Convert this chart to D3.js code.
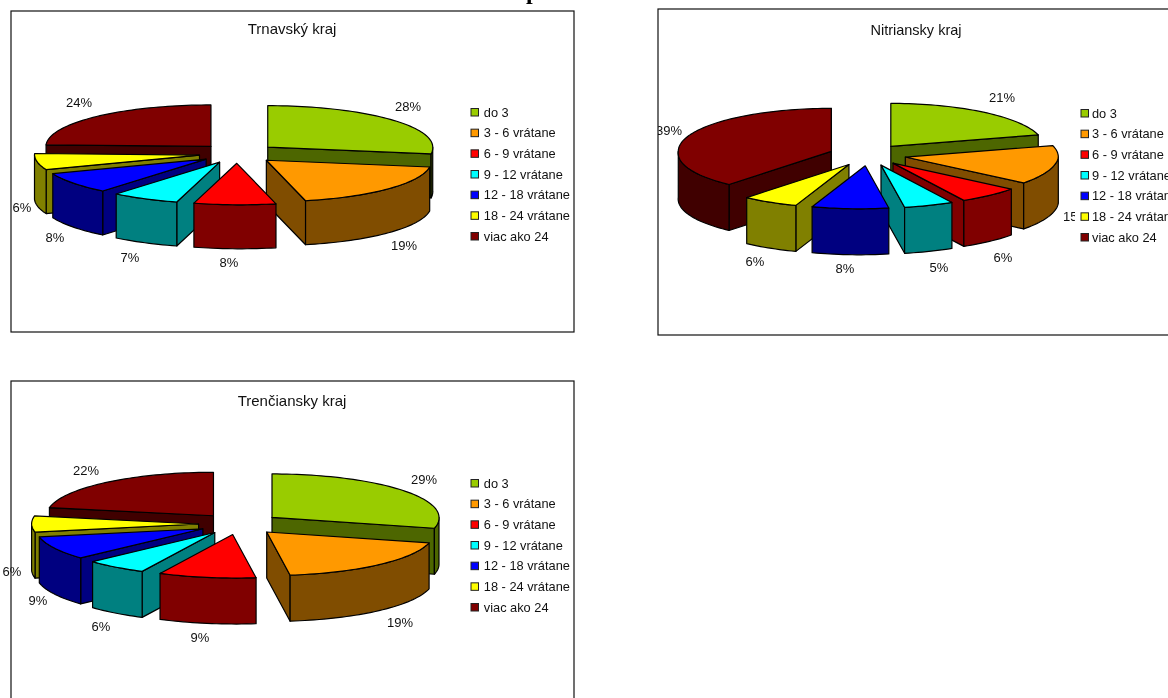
<!DOCTYPE html>
<html><head><meta charset="utf-8">
<script src="https://cdnjs.cloudflare.com/ajax/libs/d3/7.8.5/d3.min.js"></script>
<style>
html,body{margin:0;padding:0;background:#fff;overflow:hidden}
svg{display:block;filter:blur(0.3px)}
text{font-family:"Liberation Sans",Arial,sans-serif;fill:#111}
</style></head><body><svg id="c" width="1168" height="698"></svg>
<script>
const categories = ["do 3","3 - 6 vrátane","6 - 9 vrátane","9 - 12 vrátane","12 - 18 vrátane","18 - 24 vrátane","viac ako 24"];
const trnavaValues = [27.6,18.9,8,6.6,8.2,6.3,24.4];
const nitraValues = [20.7,14.6,6.4,5.2,8.1,6,39];
const trencinValues = [29,19,9.4,5.9,8.7,6,22];
const topColors = ["#99CC00","#FF9900","#FF0000","#00FFFF","#0000FF","#FFFF00","#800000"];
const sideColors = ["#4D6600","#804D00","#800000","#008080","#000080","#808000","#400000"];

const panels = [
 {title:"Trnavský kraj", values:trnavaValues, frame:[11,11,563,321], titleX:292,titleY:34,titleSize:15,
  cx:238,cy:153.5,rx:165,ry:41.5,depth:44,explode:39,shear:0.02,
  legX:471,legTop:112,legBottom:236,legText:12.8,
  labels:[[408,111],[404,250],[229,267],[130,262],[55,242],[22,212],[79,107]]},
 {title:"Nitriansky kraj", values:nitraValues, frame:[658,9,560,326], titleX:916,titleY:35,titleSize:14.5,
  cx:867.5,cy:155,rx:153,ry:43,depth:46,explode:38.5,shear:-0.04,
  legX:1081,legTop:113,legBottom:237,legText:11,legBg:[1075,100,100,150],clipLeft:true,
  labels:[[1002,102],[1076,221],[1003,262],[939,272],[845,273],[755,266],[669,135]]},
 {title:"Trenčiansky kraj", values:trencinValues, frame:[11,381,563,340], titleX:292,titleY:406,titleSize:15,
  cx:239.6,cy:524,rx:167,ry:43.5,depth:46,explode:41,shear:0.015,
  legX:471,legTop:483,legBottom:607,legText:12.8,
  labels:[[424,484],[400,627],[200,642],[101,631],[38,605],[12,576],[86,475]]}
];

const svg = d3.select("#c");
const color = d3.scaleOrdinal(categories, topColors);
const side = d3.scaleOrdinal(categories, sideColors);
const pct = d3.format(".0%");
const pie = d3.pie().sort(null).value(d=>d.value);
const line = d3.line();

// fragment of the page heading cut by the top edge
svg.append("text").attr("x",526).attr("y",-1).attr("font-size",24)
   .attr("font-weight","bold").style("font-family","'Liberation Serif',serif").style("fill","#000").text("p");

panels.forEach((p,pi)=>{
  const g = svg.append("g");
  const [fx,fy,fw,fh] = p.frame;
  g.append("rect").attr("x",fx).attr("y",fy).attr("width",fw).attr("height",fh).attr("fill","#fff");

  const X = d3.scaleLinear().domain([-1,1]).range([p.cx-p.rx,p.cx+p.rx]);
  const Y = d3.scaleLinear().domain([-1,1]).range([p.cy-p.ry,p.cy+p.ry]);
  const total = d3.sum(p.values);
  const arcs = pie(p.values.map((value,i)=>({value,name:categories[i]})));
  arcs.forEach(a=>{a.mid=(a.startAngle+a.endAngle)/2;});
  const e = p.explode/p.rx;

  const order = arcs.slice().sort((a,b)=>Math.cos(b.mid)-Math.cos(a.mid));
  order.forEach(a=>{
    const ox = e*Math.sin(a.mid), oy = -e*Math.cos(a.mid);
    // the source chart's projection leans the near rim slightly sideways
    const pt = (t,r,dz)=>[X(ox+r*Math.sin(t)+p.shear*r*Math.max(0,-Math.cos(t))), Y(oy-r*Math.cos(t))+dz];
    const n = Math.max(4,Math.ceil((a.endAngle-a.startAngle)/0.03));
    const ts = d3.range(n+1).map(i=>a.startAngle+(a.endAngle-a.startAngle)*i/n);
    const col = side(a.data.name), top = color(a.data.name);
    const draw = (pts,fill)=>g.append("path").attr("d",line(pts)+"Z")
        .attr("fill",fill).attr("stroke","#000").attr("stroke-width",1.2).attr("stroke-linejoin","round");
    // radial walls
    const wall = t=>draw([pt(t,0,0),pt(t,1,0),pt(t,1,p.depth),pt(t,0,p.depth)],col);
    if(Math.sin(a.startAngle)<0) wall(a.startAngle);
    if(Math.sin(a.endAngle)>0) wall(a.endAngle);
    // outer wall: the part of the rim that faces the viewer
    const front = ts.filter(t=>Math.cos(t)<=0);
    const lo = Math.max(a.startAngle,Math.PI/2), hi = Math.min(a.endAngle,Math.PI*1.5);
    if(hi>lo){
      const rim = [lo,...front.filter(t=>t>lo&&t<hi),hi];
      draw([...rim.map(t=>pt(t,1,0)),...rim.slice().reverse().map(t=>pt(t,1,p.depth))],col);
    }
    // top face
    draw([pt(0,0,0),...ts.map(t=>pt(t,1,0))],top);
  });

  // percent labels
  const cid = "clip"+pi;
  g.append("clipPath").attr("id",cid).append("rect").attr("x",fx).attr("y",fy).attr("width",fw).attr("height",fh);
  const lab = g.append("g").attr("font-size",13).attr("text-anchor","middle");
  if(p.clipLeft) lab.attr("clip-path",`url(#${cid})`);
  lab.selectAll("text").data(arcs).join("text")
     .attr("x",(d,i)=>p.labels[i][0]).attr("y",(d,i)=>p.labels[i][1])
     .text(d=>pct(d.data.value/total));

  // legend
  if(p.legBg) g.append("rect").attr("x",p.legBg[0]).attr("y",p.legBg[1]).attr("width",p.legBg[2]).attr("height",p.legBg[3]).attr("fill","#fff");
  const ly = d3.scalePoint().domain(categories).range([p.legTop,p.legBottom]);
  const leg = g.append("g").selectAll("g").data(categories).join("g")
     .attr("transform",d=>`translate(${p.legX},${ly(d)})`);
  leg.append("rect").attr("x",0).attr("y",-3.5).attr("width",7.5).attr("height",7.5)
     .attr("fill",d=>color(d)).attr("stroke","#222").attr("stroke-width",1);
  leg.append("text").attr("x",p.legText).attr("y",4.5).attr("font-size",12.8).text(d=>d);

  // title and frame
  g.append("text").attr("x",p.titleX).attr("y",p.titleY).attr("font-size",p.titleSize).attr("text-anchor","middle").text(p.title);
  g.append("rect").attr("x",fx).attr("y",fy).attr("width",fw).attr("height",fh)
     .attr("fill","none").attr("stroke","#111").attr("stroke-width",1.2);
});
</script></body></html>
